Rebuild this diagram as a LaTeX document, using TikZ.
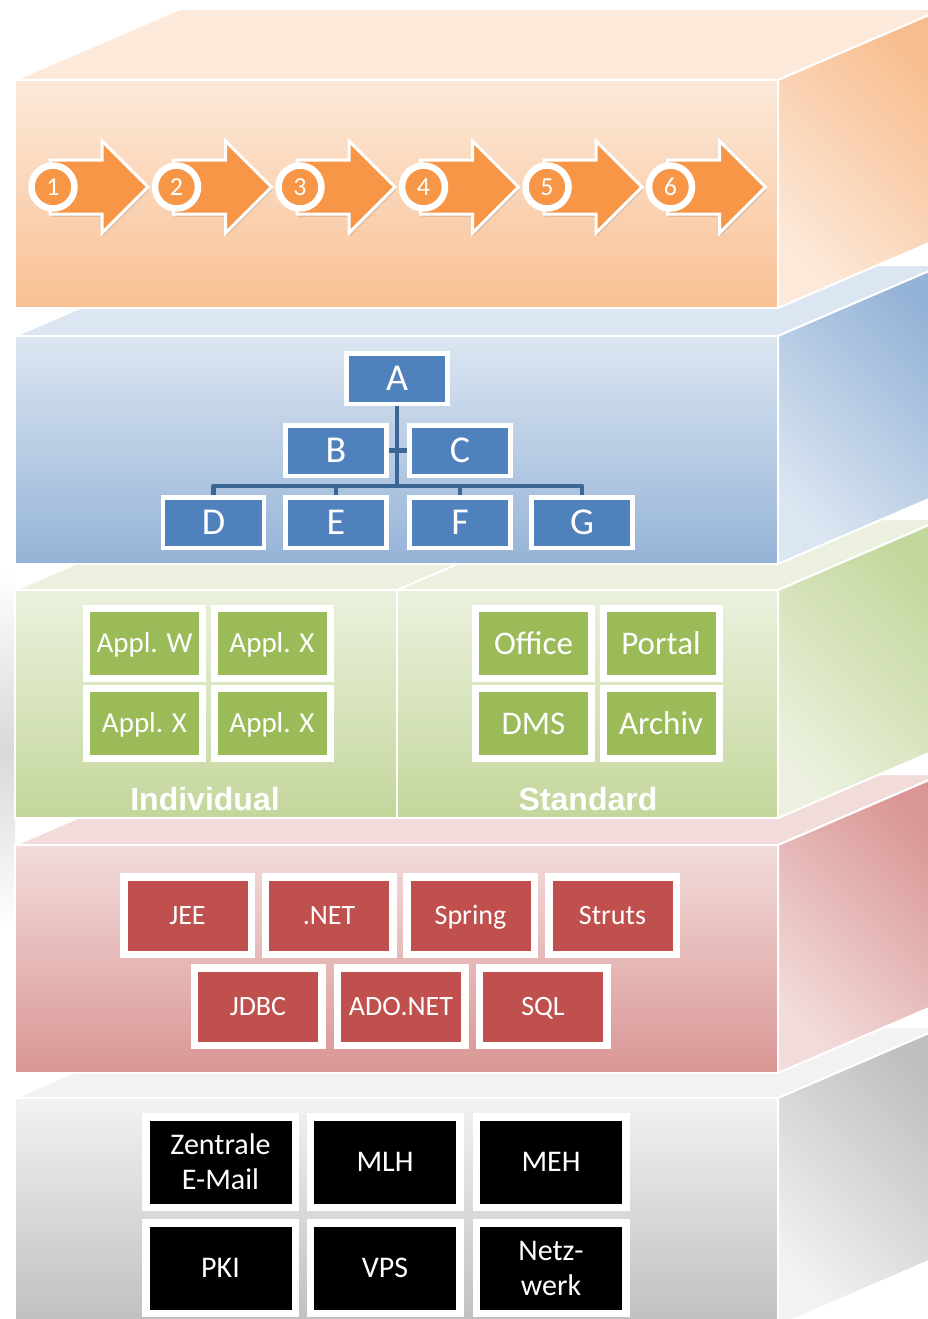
\documentclass[tikz,border=0pt]{standalone}
\usepackage{fontspec}
\setmainfont{Carlito}
\newfontfamily\headfont{Liberation Sans}
\usetikzlibrary{shadows}
\pgfdeclarelayer{back}
\pgfdeclarelayer{mid}
\pgfsetlayers{back,mid,main}

\definecolor{orTop}{HTML}{FCE9DA}
\definecolor{orBot}{HTML}{F9C093}
\definecolor{orSide}{HTML}{F8BD8E}
\definecolor{blTop}{HTML}{DCE6F2}
\definecolor{blBot}{HTML}{95B3D7}
\definecolor{grTop}{HTML}{EBF1DE}
\definecolor{grBot}{HTML}{C3D69B}
\definecolor{rdTop}{HTML}{F2DCDB}
\definecolor{rdBot}{HTML}{D99694}
\definecolor{gyTop}{HTML}{F2F2F2}
\definecolor{gyBot}{HTML}{BFBFBF}
\definecolor{accOr}{HTML}{F79646}
\definecolor{accBl}{HTML}{4F81BD}
\definecolor{accBlD}{HTML}{3C6695}
\definecolor{accGr}{HTML}{9BBB59}
\definecolor{accRd}{HTML}{C0504D}

% #1 top y of front face, #2 light colour, #3 front bottom colour, #4 side dark colour
\newcommand\slab[4]{%
  \path[fill=#2, draw=white, line width=2pt, line join=round]
    (15,{-#1}) -- (180,{-#1+71}) -- (943,{-#1+71}) -- (778,{-#1}) -- cycle;
  \path[top color=#4, bottom color=#2, shading angle=-45, draw=white, line width=2pt, line join=round]
    (778,{-#1}) -- (943,{-#1+71}) -- (943,{-#1-228+71}) -- (778,{-#1-228}) -- cycle;
  \path[top color=#2, bottom color=#3, draw=white, line width=2pt]
    (15,{-#1}) rectangle (778,{-#1-228});
}

\begin{document}
\begin{tikzpicture}[x=1pt,y=1pt,
  chev/.style={fill=accOr, draw=white, line width=3pt, line join=miter,
    drop shadow={opacity=0.25, shadow xshift=1pt, shadow yshift=-3pt}},
  numc/.style={circle, fill=accOr, draw=white, line width=6.5pt, minimum size=43pt,
    inner sep=0pt, text=white, font=\fontsize{26}{26}\selectfont,
    text height=16.6pt, text depth=0pt},
  orgbox/.style={fill=accBl, draw=white, line width=4.5pt, minimum width=101pt,
    minimum height=50.5pt, inner sep=0pt, text=white,
    font=\fontsize{38}{38}\selectfont, text height=24.3pt, text depth=0pt},
  orgline/.style={draw=accBlD, line width=4.5pt},
  gbox/.style={fill=accGr, draw=white, line width=7pt, minimum width=116pt,
    minimum height=70pt, inner sep=0pt, text=white, text depth=0pt},
  indiv/.style={gbox, font=\fontsize{29}{29}\selectfont, text height=18.6pt},
  stdbox/.style={gbox, font=\fontsize{33}{33}\selectfont, text height=21.1pt},
  lbl/.style={text=white, inner sep=0pt, font=\headfont\bfseries\fontsize{32}{32}\selectfont},
  rbox/.style={fill=accRd, draw=white, line width=7.5pt, minimum width=127.5pt,
    minimum height=77.5pt, inner sep=0pt, text=white,
    font=\fontsize{28}{28}\selectfont, text height=17.9pt, text depth=0pt},
  kbox/.style={fill=black, draw=white, line width=7.5pt, minimum width=149.5pt,
    minimum height=90.5pt, inner sep=0pt, text=white, align=center,
    font=\fontsize{30}{35}\selectfont}
]
\useasboundingbox (0,-1319) rectangle (928,0);

\begin{pgfonlayer}{back}
  \clip (0,-1319) rectangle (928,0);
  \fill[white] (0,-1319) rectangle (928,0);
  \shade[top color=white, bottom color=white, middle color=black!15] (0,-570) rectangle (15,-930);
  \slab{1098}{gyTop}{gyBot}{gyBot}
  \slab{845}{rdTop}{rdBot}{rdBot}
  \slab{590}{grTop}{grBot}{grBot}
  \draw[white, line width=2pt] (397,-590) -- (397,-818);
  \draw[white, line width=2pt] (397,-590) -- (562,-519);
  \slab{336}{blTop}{blBot}{blBot}
  \slab{80}{orTop}{orBot}{orSide}
\end{pgfonlayer}

% process chevrons
\foreach \i/\cx in {1/53,2/176.5,3/300,4/423.5,5/547,6/670.5}{
  \path[chev] ({\cx-3},-160) -- ({\cx+49},-160) -- ({\cx+49},-141) -- ({\cx+95},-187)
     -- ({\cx+49},-233) -- ({\cx+49},-214) -- ({\cx-3},-214) -- cycle;
  \node[numc] (c\i) at (\cx,-187) {\i};
}

% organisation chart
\node[orgbox] (A) at (397,-378.5) {A};
\node[orgbox] (B) at (336,-450.5) {B};
\node[orgbox] (C) at (460,-450.5) {C};
\node[orgbox] (D) at (213.5,-522.5) {D};
\node[orgbox] (E) at (336,-522.5) {E};
\node[orgbox] (F) at (460,-522.5) {F};
\node[orgbox] (G) at (582,-522.5) {G};
\begin{pgfonlayer}{mid}
  \coordinate (trunk) at (397,-486);
  \draw[orgline] (A.south) -- (trunk);
  \draw[orgline, line join=round] (D.north) -- (D.north |- trunk) -- (G.north |- trunk) -- (G.north);
  \draw[orgline] (E.north) -- (E.north |- trunk);
  \draw[orgline] (F.north) -- (F.north |- trunk);
  \draw[orgline] (B.east) -- (C.west);
\end{pgfonlayer}

% applications
\node[indiv] (w1) at (144.5,-643.5) {Appl. W};
\node[indiv] (x1) at (272,-643.5) {Appl. X};
\node[indiv] (x2) at (144.5,-723.5) {Appl. X};
\node[indiv] (x3) at (272,-723.5) {Appl. X};
\node[stdbox] (off) at (533.5,-643.5) {Office};
\node[stdbox] (por) at (661,-643.5) {Portal};
\node[stdbox] (dms) at (533.5,-723.5) {DMS};
\node[stdbox] (arc) at (661,-723.5) {Archiv};
\node[lbl] (ind) at (205,-799) {Individual};
\node[lbl] (std) at (588,-799) {Standard};

% frameworks
\node[rbox] (jee) at (187.5,-915.5) {JEE};
\node[rbox] (net) at (329,-915.5) {.NET};
\node[rbox] (spr) at (470.5,-915.5) {Spring};
\node[rbox] (str) at (612.5,-915.5) {Struts};
\node[rbox] (jdbc) at (258,-1006.5) {JDBC};
\node[rbox] (ado) at (401,-1006.5) {ADO.NET};
\node[rbox] (sql) at (543,-1006.5) {SQL};

% infrastructure
\node[kbox] (mail) at (220.5,-1162) {Zentrale\\E-Mail};
\node[kbox] (mlh) at (385,-1162) {MLH};
\node[kbox] (meh) at (551,-1162) {MEH};
\node[kbox] (pki) at (220.5,-1268) {PKI};
\node[kbox] (vps) at (385,-1268) {VPS};
\node[kbox] (netz) at (551,-1268) {Netz-\\werk};
\end{tikzpicture}
\end{document}
